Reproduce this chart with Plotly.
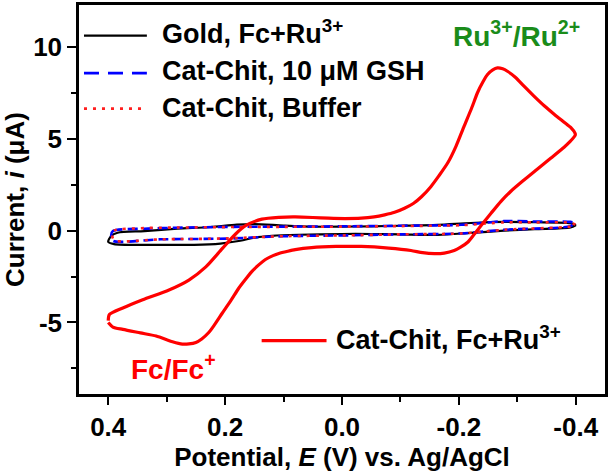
import plotly.graph_objects as go

# ---------------- data ----------------
# Cat-Chit, Fc+Ru3+ : forward scan (0.4 -> -0.4) then reverse (-0.4 -> 0.4)
red_x_fwd = [0.400, 0.398, 0.375, 0.341, 0.296, 0.262, 0.233, 0.205, 0.182, 0.165,
             0.137, 0.108, 0.080, 0.050, 0.023, -0.005, -0.033, -0.055, -0.073, -0.090,
             -0.107, -0.122, -0.136, -0.152, -0.166, -0.181, -0.195, -0.209, -0.222, -0.232,
             -0.241, -0.249, -0.258, -0.266, -0.275, -0.283, -0.297, -0.311, -0.328, -0.346,
             -0.363, -0.380, -0.392, -0.399]
red_y_fwd = [-4.90, -4.57, -4.21, -3.76, -3.23, -2.69, -1.97, -0.98, -0.18, 0.27,
             0.63, 0.73, 0.75, 0.72, 0.68, 0.66, 0.68, 0.75, 0.86, 1.00,
             1.22, 1.48, 1.85, 2.40, 3.00, 3.70, 4.60, 5.70, 6.70, 7.53,
             8.10, 8.51, 8.77, 8.87, 8.82, 8.69, 8.35, 7.89, 7.35, 6.81,
             6.35, 5.91, 5.60, 5.30]
red_x_rev = [-0.399, -0.390, -0.380, -0.357, -0.334, -0.311, -0.289, -0.272, -0.255,
             -0.241, -0.227, -0.215, -0.203, -0.192, -0.175, -0.158, -0.138, -0.118, -0.080,
             -0.033, 0.010, 0.052, 0.080, 0.093, 0.108, 0.118, 0.131, 0.142, 0.154,
             0.165, 0.177, 0.190, 0.205, 0.218, 0.228, 0.240, 0.250, 0.262, 0.273,
             0.290, 0.318, 0.345, 0.375, 0.392, 0.400]
red_y_rev = [5.20, 4.85, 4.55, 3.95, 3.35, 2.75, 2.15, 1.60, 0.95,
             0.40, -0.16, -0.63, -0.90, -1.08, -1.22, -1.25, -1.20, -1.08, -0.95,
             -0.86, -0.86, -0.92, -1.03, -1.12, -1.24, -1.36, -1.57, -1.85, -2.22,
             -2.65, -3.15, -3.80, -4.50, -5.12, -5.55, -5.90, -6.09, -6.17, -6.18,
             -6.05, -5.74, -5.57, -5.38, -5.25, -5.00]

# Gold, Fc+Ru3+
gold_x_fwd = [0.400, 0.395, 0.384, 0.338, 0.282, 0.225, 0.180, 0.150, 0.100, 0.050,
              0.000, -0.050, -0.100, -0.164, -0.220, -0.277, -0.330, -0.391, -0.400]
gold_y_fwd = [-0.61, -0.29, -0.11, -0.02, 0.11, 0.20, 0.33, 0.36, 0.28, 0.22,
              0.22, 0.24, 0.27, 0.32, 0.42, 0.48, 0.46, 0.41, 0.30]
gold_x_rev = [-0.400, -0.391, -0.330, -0.277, -0.220, -0.164, -0.100, -0.050, 0.000, 0.074,
              0.120, 0.150, 0.174, 0.208, 0.253, 0.300, 0.338, 0.390, 0.400]
gold_y_rev = [0.30, 0.18, 0.08, 0.00, -0.12, -0.23, -0.20, -0.18, -0.18, -0.22,
              -0.28, -0.38, -0.55, -0.70, -0.77, -0.77, -0.77, -0.73, -0.61]

# Cat-Chit, 10 uM GSH
gsh_x_fwd = [0.395, 0.392, 0.338, 0.282, 0.185, 0.100, 0.000, -0.100, -0.204, -0.277,
             -0.330, -0.391, -0.398]
gsh_y_fwd = [-0.25, -0.02, 0.11, 0.16, 0.21, 0.22, 0.24, 0.27, 0.32, 0.52,
             0.50, 0.48, 0.42]
gsh_x_rev = [-0.398, -0.391, -0.277, -0.204, -0.100, 0.000, 0.100, 0.197, 0.310, 0.392, 0.395]
gsh_y_rev = [0.42, 0.25, 0.05, -0.15, -0.20, -0.26, -0.30, -0.43, -0.47, -0.55, -0.25]

# Cat-Chit, Buffer
buf_x_fwd = [0.393, 0.390, 0.338, 0.282, 0.185, 0.100, 0.000, -0.100, -0.204, -0.277,
             -0.330, -0.391, -0.400]
buf_y_fwd = [-0.22, 0.00, 0.14, 0.17, 0.20, 0.21, 0.22, 0.25, 0.30, 0.45,
             0.45, 0.43, 0.32]
buf_x_rev = [-0.400, -0.391, -0.277, -0.204, -0.100, 0.000, 0.100, 0.197, 0.310, 0.390, 0.393]
buf_y_rev = [0.32, 0.23, 0.05, -0.15, -0.20, -0.26, -0.30, -0.42, -0.47, -0.52, -0.22]

x_ticks = [0.4, 0.2, 0.0, -0.2, -0.4]
y_ticks = [-5, 0, 5, 10]

# ---------------- figure ----------------
FONT = "Liberation Sans"
W, H = 610, 472
L, R, T, B = 79, 4, 2, 76
PW, PH = W - L - R, H - T - B


def px(x):
    return (x - L) / PW


def py(y):
    return (H - B - y) / PH


fig = go.Figure()

fig.add_trace(go.Scatter(x=gold_x_fwd + gold_x_rev, y=gold_y_fwd + gold_y_rev,
                         mode="lines", name="Gold, Fc+Ru3+",
                         line=dict(color="black", width=2.2, shape="spline", smoothing=0.8)))
fig.add_trace(go.Scatter(x=gsh_x_fwd + gsh_x_rev, y=gsh_y_fwd + gsh_y_rev,
                         mode="lines", name="Cat-Chit, 10 μM GSH",
                         line=dict(color="#0000ff", width=2.6, dash="10px,5px",
                                   shape="spline", smoothing=0.8)))
fig.add_trace(go.Scatter(x=buf_x_fwd + buf_x_rev, y=buf_y_fwd + buf_y_rev,
                         mode="lines", name="Cat-Chit, Buffer",
                         line=dict(color="#ff2020", width=2.6, dash="3px,6px",
                                   shape="spline", smoothing=0.8)))
fig.add_trace(go.Scatter(x=red_x_fwd + red_x_rev, y=red_y_fwd + red_y_rev,
                         mode="lines", name="Cat-Chit, Fc+Ru3+",
                         line=dict(color="#ff0000", width=3.2, shape="spline", smoothing=0.7)))

axis_common = dict(
    showline=True, linecolor="black", linewidth=2.5, mirror=True,
    ticks="outside", tickcolor="black", tickwidth=2.2,
    showgrid=False, zeroline=False,
    tickfont=dict(family=FONT, size=26, color="black", weight="bold"),
    title_font=dict(family=FONT, size=26, color="black", weight="bold"),
)

fig.update_xaxes(
    range=[0.45, -0.45], tickvals=x_ticks, ticktext=[f"{v:.1f}" for v in x_ticks],
    ticklen=8,
    minor=dict(ticks="outside", dtick=0.1, tick0=0, ticklen=5, tickwidth=2, tickcolor="black"),
    title=dict(text="Potential, <i>E</i> (V) vs. Ag/AgCl", standoff=10),
    **axis_common,
)
fig.update_yaxes(
    range=[-8.9, 12.3], tickvals=y_ticks, ticktext=[str(v) for v in y_ticks],
    ticklen=9,
    minor=dict(ticks="outside", dtick=2.5, tick0=0, ticklen=5, tickwidth=2, tickcolor="black"),
    title=dict(text="Current, <i>i</i> (μA)", standoff=8),
    **axis_common,
)

# ---- legend drawn as shapes + text (long sample lines as in the original) ----
LEG = 27
legend_rows = [
    ("Gold, Fc+Ru<sup>3+</sup>", dict(color="black", width=2.2, dash="solid"), 84, 147, 160, 33, 29),
    ("Cat-Chit, 10 μM GSH", dict(color="#0000ff", width=2.6, dash="15px,9px"), 84, 147, 160, 71, 69),
    ("Cat-Chit, Buffer", dict(color="#ff2020", width=2.6, dash="3px,6px"), 84, 147, 160, 107, 106),
    ("Cat-Chit, Fc+Ru<sup>3+</sup>", dict(color="#ff0000", width=3.2, dash="solid"), 262, 327, 334, 342, 339),
]
for text, ln, x0, x1, xt, yc, yt in legend_rows:
    fig.add_shape(type="line", xref="paper", yref="paper",
                  x0=px(x0), x1=px(x1), y0=py(yc), y1=py(yc), line=ln)
    fig.add_annotation(xref="paper", yref="paper", x=px(xt), y=py(yt),
                       xanchor="left", yanchor="middle", showarrow=False, text=text,
                       font=dict(family=FONT, size=LEG, color="black", weight="bold"))

# peak labels
fig.add_annotation(xref="paper", yref="paper", x=px(517), y=py(31),
                   xanchor="center", yanchor="middle", showarrow=False,
                   text="Ru<sup>3+</sup>/Ru<sup>2+</sup>",
                   font=dict(family=FONT, size=28, color="#1a8c1a", weight="bold"))
fig.add_annotation(xref="paper", yref="paper", x=px(174), y=py(369),
                   xanchor="center", yanchor="middle", showarrow=False,
                   text="Fc/Fc<sup>+</sup>",
                   font=dict(family=FONT, size=28, color="#ff0000", weight="bold"))

fig.update_layout(
    width=W, height=H,
    margin=dict(l=L, r=R, t=T, b=B),
    paper_bgcolor="white", plot_bgcolor="white",
    showlegend=False,
    font=dict(family=FONT, color="black", weight="bold"),
)

fig.write_html(
    "out.html",
    config={"displayModeBar": False},
    post_script="document.body.style.margin='0px';document.body.style.padding='0px';"
                "document.body.style.overflow='hidden';",
)
